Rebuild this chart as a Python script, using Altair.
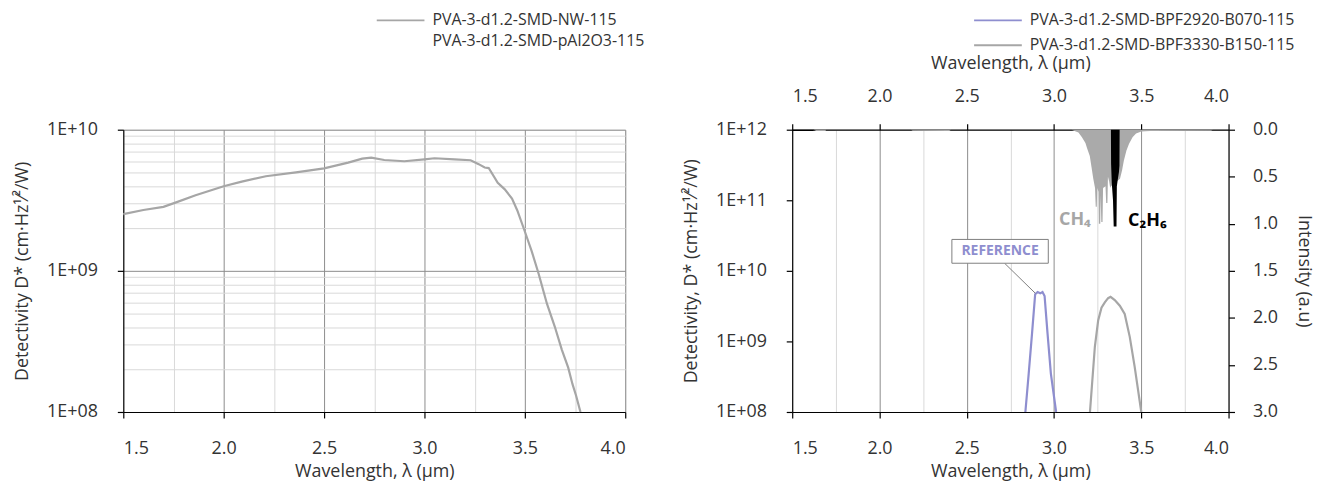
import altair as alt
import pandas as pd

FONT = "Open Sans"
TXT = "#333333"

# ---------------- left chart data ----------------
left_series = ["PVA-3-d1.2-SMD-NW-115", "PVA-3-d1.2-SMD-pAl2O3-115"]
nw_wl = [1.5, 1.6, 1.7, 1.77, 1.86, 2.0, 2.09, 2.21, 2.36, 2.5, 2.62, 2.69, 2.735,
         2.8, 2.9, 3.0, 3.05, 3.15, 3.23, 3.27, 3.3, 3.32, 3.365, 3.40, 3.436, 3.462,
         3.5, 3.534, 3.569, 3.61, 3.649, 3.684, 3.716, 3.737, 3.755, 3.777]
nw_d = [2.52e9, 2.7e9, 2.84e9, 3.08e9, 3.43e9, 3.98e9, 4.29e9, 4.68e9, 4.99e9, 5.32e9,
        5.85e9, 6.24e9, 6.34e9, 6.1e9, 5.98e9, 6.17e9, 6.28e9, 6.17e9, 6.08e9, 5.7e9,
        5.4e9, 5.35e9, 4.2e9, 3.78e9, 3.25e9, 2.69e9, 1.9e9, 1.38e9, 9.5e8, 5.85e8,
        4.03e8, 2.77e8, 2.06e8, 1.58e8, 1.31e8, 1.0e8]

# ---------------- right chart data ----------------
right_series = ["PVA-3-d1.2-SMD-BPF2920-B070-115", "PVA-3-d1.2-SMD-BPF3330-B150-115"]
b2920_wl = [2.836, 2.855, 2.874, 2.892, 2.906, 2.921, 2.934, 2.946, 2.963, 2.982, 3.012]
b2920_d = [1e8, 3.5e8, 1.29e9, 4.67e9, 5.0e9, 4.8e9, 5.0e9, 4.4e9, 1.29e9, 3.5e8, 1e8]
b3330_wl = [3.206, 3.234, 3.253, 3.272, 3.291, 3.31, 3.324, 3.348, 3.377, 3.405,
            3.434, 3.462, 3.5]
b3330_d = [1e8, 8.4e8, 1.98e9, 3.0e9, 3.57e9, 4.1e9, 4.28e9, 3.85e9, 3.2e9, 2.45e9,
           1.16e9, 4.4e8, 1e8]

ch4_wl = [1.50, 1.63, 1.635, 1.69, 1.695, 2.18, 2.19, 2.40, 2.41, 3.10, 3.14, 3.16,
          3.18, 3.19, 3.205, 3.215, 3.225, 3.235, 3.239, 3.245, 3.248, 3.255, 3.257,
          3.265, 3.267, 3.271, 3.278, 3.281, 3.295, 3.299, 3.306, 3.309, 3.316, 3.322,
          3.326, 3.378, 3.39, 3.40, 3.415, 3.43, 3.45, 3.47, 3.50, 3.55, 3.90, 3.91]
ch4_i = [0.0, 0.0, 0.015, 0.015, 0.0, 0.0, 0.01, 0.015, 0.0, 0.0, 0.03, 0.08,
         0.14, 0.2, 0.28, 0.40, 0.52, 0.62, 0.82, 0.82, 0.62, 0.66, 1.0,
         1.0, 0.7, 0.98, 0.98, 0.62, 0.6, 0.78, 0.78, 0.5, 0.55, 0.62,
         0.6, 0.52, 0.43, 0.33, 0.22, 0.15, 0.08, 0.04, 0.02, 0.015, 0.01, 0.0]
c2h6_wl = [1.50, 1.62, 1.625, 3.326, 3.327, 3.331, 3.338, 3.342, 3.358, 3.360,
           3.366, 3.372, 3.375, 3.376]
c2h6_i = [0.015, 0.015, 0.0, 0.0, 0.36, 0.57, 0.75, 1.03, 1.03, 0.60,
          0.52, 0.45, 0.38, 0.0]

# annotations
ref_text = ["REFERENCE"]
ref_x = [2.691]
ref_y = [1.89e10]
lead_x = [2.717]
lead_y = [1.28e10]
lead_x2 = [2.893]
lead_y2 = [4.81e9]
gas_text = ["CH₄", "C₂H₆"]
gas_x = [3.12, 3.535]
gas_i = [0.955, 0.975]
gas_col = ["#a6a6a6", "#000000"]

# ticks
x_ticks = [1.5, 1.75, 2.0, 2.25, 2.5, 2.75, 3.0, 3.25, 3.5, 3.75, 4.0]
x_major = [1.5, 2.0, 2.5, 3.0, 3.5, 4.0]
y_ticks_left = [1e8, 2e8, 3e8, 4e8, 5e8, 6e8, 7e8, 8e8, 9e8,
                1e9, 2e9, 3e9, 4e9, 5e9, 6e9, 7e9, 8e9, 9e9, 1e10]
y_ticks_right = [1e8, 1e9, 1e10, 1e11, 1e12]
i_ticks = [0.0, 0.5, 1.0, 1.5, 2.0, 2.5, 3.0]

MAJ = "abs(datum.value*2 - round(datum.value*2)) < 0.001"
DEC = "abs(log(datum.value)/LN10 - round(log(datum.value)/LN10)) < 0.001"
EXP_LABEL = ("'1E+' + (round(log(datum.value)/LN10) < 10 ? '0' : '') + "
             "round(log(datum.value)/LN10)")
FS = 18

base = dict(labelFont=FONT, titleFont=FONT, labelFontSize=FS, titleFontSize=FS,
            labelColor=TXT, titleColor=TXT, titleFontWeight="normal",
            domainColor="black", domainWidth=1.2, tickSize=6, tickWidth=1.2)

xs = alt.Scale(domain=[1.5, 4.0], nice=False, zero=False)


def x_axis_bottom(edge_test):
    return alt.Axis(
        orient="bottom", values=x_ticks, title="Wavelength, λ (µm)",
        labelExpr=f"({MAJ}) ? format(datum.value, '.1f') : ''",
        gridColor={"condition": [{"test": edge_test, "value": "transparent"},
                                 {"test": MAJ, "value": "#8c8c8c"}], "value": "#d9d9d9"},
        tickColor={"condition": {"test": MAJ, "value": "black"}, "value": "transparent"},
        labelPadding=22, titlePadding=5, **base)


LINE_SYM = "M-4,0L4,0"
legend_common = dict(orient="none", title=None, symbolType=LINE_SYM, symbolSize=144,
                     symbolStrokeWidth=2, labelFont=FONT, labelFontSize=16, labelColor=TXT,
                     labelOffset=24, labelLimit=600)

# ---------------- left chart ----------------
df_left = pd.DataFrame({"wl": nw_wl, "d": nw_d, "series": left_series[0]})
left = alt.Chart(df_left).mark_line(strokeWidth=2.2).encode(
    x=alt.X("wl:Q", scale=xs, axis=x_axis_bottom("datum.value < 1.6")),
    y=alt.Y("d:Q", scale=alt.Scale(type="log", domain=[1e8, 1e10], nice=False), axis=alt.Axis(
        values=y_ticks_left, title="Detectivity D* (cm·Hz¹⁄²/W)",
        labelExpr=f"({DEC}) ? {EXP_LABEL} : ''",
        gridColor={"condition": [{"test": "datum.value < 1.5e8", "value": "transparent"},
                                 {"test": DEC, "value": "#8c8c8c"}], "value": "#d9d9d9"},
        tickColor={"condition": {"test": DEC, "value": "black"}, "value": "transparent"},
        labelPadding=20, titlePadding=15, **base)),
    color=alt.Color("series:N", scale=alt.Scale(domain=left_series,
                                                range=["#a6a6a6", "transparent"]),
                    legend=alt.Legend(legendX=271, legendY=-118, rowPadding=5, **legend_common)),
).properties(width=505, height=284)

# ---------------- right chart ----------------
df_f = pd.concat([
    pd.DataFrame({"wl": b2920_wl, "d": b2920_d, "series": right_series[0]}),
    pd.DataFrame({"wl": b3330_wl, "d": b3330_d, "series": right_series[1]}),
])
ys_log = alt.Scale(type="log", domain=[1e8, 1e12], nice=False)
xb = x_axis_bottom("datum.value < 1.6 || datum.value > 3.9")
yl = alt.Axis(values=y_ticks_right, title="Detectivity, D* (cm·Hz¹⁄²/W)", grid=False,
              labelExpr=EXP_LABEL, tickColor="black", labelPadding=20, titlePadding=15, **base)

filt = alt.Chart(df_f).mark_line(strokeWidth=2.2).encode(
    x=alt.X("wl:Q", scale=xs, axis=xb),
    y=alt.Y("d:Q", scale=ys_log, axis=yl),
    color=alt.Color("series:N", scale=alt.Scale(domain=right_series,
                                                range=["#8e8ecf", "#a6a6a6"]),
                    legend=alt.Legend(legendX=199, legendY=-118, rowPadding=9, **legend_common)),
)

df_ann = pd.DataFrame({"t": ref_text, "x": ref_x, "y": ref_y, "lx": lead_x, "ly": lead_y,
                       "lx2": lead_x2, "ly2": lead_y2})
lead = alt.Chart(df_ann).mark_rule(color="#7f7f7f", strokeWidth=1).encode(
    x=alt.X("lx:Q", scale=xs, axis=xb), y=alt.Y("ly:Q", scale=ys_log, axis=yl),
    x2="lx2:Q", y2="ly2:Q")
box = alt.Chart(df_ann).mark_point(
    shape="M-1,-0.247L1,-0.247L1,0.247L-1,0.247Z", size=9409, filled=False,
    stroke="#7f7f7f", strokeWidth=1, fill="white", fillOpacity=1, opacity=1).encode(
    x=alt.X("x:Q", scale=xs, axis=xb), y=alt.Y("y:Q", scale=ys_log, axis=yl))
ref_lbl = alt.Chart(df_ann).mark_text(font=FONT, fontSize=14, fontWeight="bold",
                                      color="#8e8ecf").encode(
    x=alt.X("x:Q", scale=xs, axis=xb), y=alt.Y("y:Q", scale=ys_log, axis=yl), text="t:N")

filt_group = alt.layer(filt, lead, box, ref_lbl)

df_ch4 = pd.DataFrame({"wl": ch4_wl, "i": ch4_i})
df_c2 = pd.DataFrame({"wl": c2h6_wl, "i": c2h6_i})
is_ = alt.Scale(domain=[0, 3], reverse=True, nice=False, zero=True)
xt = alt.Axis(orient="top", values=x_major, title="Wavelength, λ (µm)", grid=False,
              format=".1f", tickColor="black", labelPadding=18, titlePadding=16, **base)
yr = alt.Axis(orient="right", values=i_ticks, format=".1f", title="Intensity (a.u)",
              grid=False, tickColor="black", labelPadding=18, titlePadding=17, **base)
ch4 = alt.Chart(df_ch4).mark_area(color="#aaaaaa", opacity=1).encode(
    x=alt.X("wl:Q", scale=xs, axis=xt),
    y=alt.Y("i:Q", scale=is_, stack=None, axis=yr))
c2 = alt.Chart(df_c2).mark_area(color="#000000", opacity=1).encode(
    x=alt.X("wl:Q", scale=xs, axis=xt),
    y=alt.Y("i:Q", scale=is_, stack=None, axis=yr))
df_gas = pd.DataFrame({"t": gas_text, "x": gas_x, "i": gas_i, "c": gas_col})
gas = alt.Chart(df_gas).mark_text(font=FONT, fontSize=18, fontWeight="bold").encode(
    x=alt.X("x:Q", scale=xs, axis=xt), y=alt.Y("i:Q", scale=is_, axis=yr),
    text="t:N", color=alt.Color("c:N", scale=None))
spec_group = alt.layer(ch4, c2, gas)

right = alt.layer(filt_group, spec_group).resolve_scale(
    y="independent").resolve_axis(x="independent", y="independent").properties(
    width=439, height=284)

chart = alt.hconcat(left, right, spacing=36).resolve_scale(color="independent").properties(
    padding={"left": 5, "right": 5, "top": 2, "bottom": 0}).configure_view(
    stroke=None).configure(background="white")

chart.save("out.html", embed_options={"renderer": "svg", "actions": False})
